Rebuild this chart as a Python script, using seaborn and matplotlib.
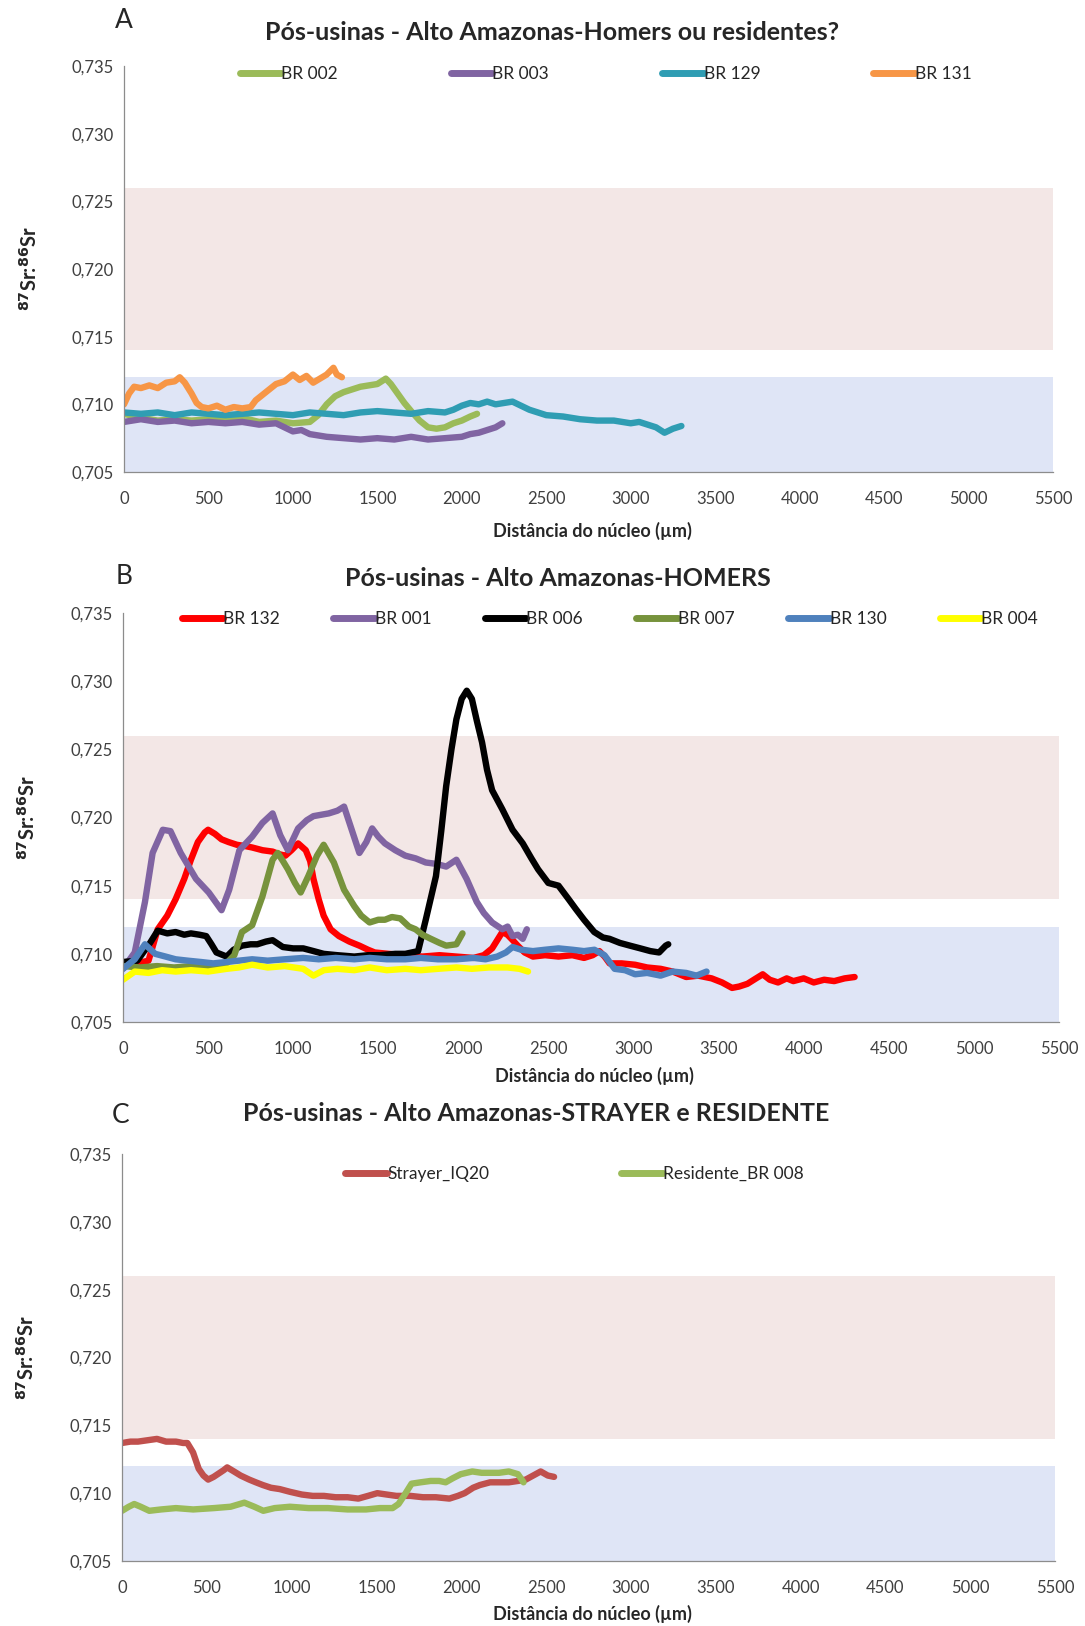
"""Recreation of the Sr isotope profile panels (A, B, C)."""

import matplotlib
matplotlib.use("Agg")
import matplotlib.pyplot as plt
import matplotlib.ticker as mticker
import numpy as np
import seaborn as sns

# ---- data (distance from core in um, 87Sr/86Sr) ----
br002 = [(0, 0.7093), (100, 0.7090), (200, 0.7088), (300, 0.7089), (400, 0.7088), (500, 0.7089),
         (600, 0.7088), (700, 0.7090), (800, 0.7087), (900, 0.7088), (1000, 0.7086), (1100, 0.7087),
         (1150, 0.7092), (1200, 0.7100), (1250, 0.7106), (1300, 0.7109), (1350, 0.7111), (1400, 0.7113),
         (1450, 0.7114), (1500, 0.7115), (1550, 0.7119), (1580, 0.7115), (1620, 0.7108), (1660, 0.7101),
         (1700, 0.7095), (1750, 0.7088), (1800, 0.7083), (1850, 0.7082), (1900, 0.7083), (1950, 0.7086),
         (2000, 0.7088), (2050, 0.7091), (2090, 0.7093)]
br003 = [(0, 0.7087), (100, 0.7089), (200, 0.7087), (300, 0.7088), (400, 0.7086), (500, 0.7087),
         (600, 0.7086), (700, 0.7087), (800, 0.7085), (900, 0.7086), (950, 0.7083), (1000, 0.7080),
         (1050, 0.7081), (1100, 0.7078), (1150, 0.7077), (1200, 0.7076), (1300, 0.7075), (1400, 0.7074),
         (1500, 0.7075), (1600, 0.7074), (1700, 0.7076), (1800, 0.7074), (1900, 0.7075), (2000, 0.7076),
         (2050, 0.7078), (2100, 0.7079), (2150, 0.7081), (2200, 0.7083), (2240, 0.7086)]
br129 = [(0, 0.7094), (100, 0.7093), (200, 0.7094), (300, 0.7092), (400, 0.7094), (500, 0.7093),
         (600, 0.7092), (700, 0.7093), (800, 0.7094), (900, 0.7093), (1000, 0.7092), (1100, 0.7094),
         (1200, 0.7093), (1300, 0.7092), (1400, 0.7094), (1500, 0.7095), (1600, 0.7094), (1700, 0.7093),
         (1800, 0.7095), (1900, 0.7094), (1950, 0.7096), (2000, 0.7099), (2050, 0.7101), (2100, 0.7100),
         (2150, 0.7102), (2200, 0.7100), (2250, 0.7101), (2300, 0.7102), (2350, 0.7099), (2400, 0.7096),
         (2450, 0.7094), (2500, 0.7092), (2600, 0.7091), (2700, 0.7089), (2800, 0.7088), (2900, 0.7088),
         (3000, 0.7086), (3050, 0.7087), (3100, 0.7085), (3150, 0.7083), (3200, 0.7079), (3250, 0.7082),
         (3300, 0.7084)]
br131 = [(0, 0.7100), (30, 0.7108), (60, 0.7113), (100, 0.7112), (150, 0.7114), (200, 0.7112),
         (250, 0.7116), (300, 0.7117), (330, 0.7120), (360, 0.7116), (400, 0.7108), (430, 0.7101),
         (460, 0.7098), (500, 0.7097), (550, 0.7099), (600, 0.7096), (650, 0.7098), (700, 0.7097),
         (750, 0.7098), (780, 0.7103), (820, 0.7107), (860, 0.7111), (900, 0.7115), (950, 0.7117),
         (1000, 0.7122), (1040, 0.7118), (1080, 0.7121), (1120, 0.7116), (1160, 0.7119), (1200, 0.7122),
         (1240, 0.7127), (1260, 0.7122), (1290, 0.7120)]

br132 = [(0, 0.7092), (80, 0.7093), (150, 0.7095), (204, 0.7118), (260, 0.7128), (309, 0.7140),
         (360, 0.7155), (399, 0.7169), (440, 0.7182), (480, 0.7189), (500, 0.7191), (540, 0.7188),
         (579, 0.7184), (620, 0.7182), (669, 0.7180), (720, 0.7179), (759, 0.7178), (820, 0.7176),
         (879, 0.7175), (920, 0.7173), (954, 0.7172), (990, 0.7176), (1029, 0.7181), (1074, 0.7176),
         (1100, 0.7168), (1119, 0.7155), (1150, 0.7140), (1179, 0.7128), (1220, 0.7118), (1269, 0.7113),
         (1330, 0.7109), (1389, 0.7106), (1440, 0.7103), (1479, 0.7101), (1560, 0.7100), (1659, 0.7099),
         (1760, 0.7098), (1860, 0.7099), (1959, 0.7098), (2060, 0.7097), (2120, 0.7099), (2169, 0.7104),
         (2229, 0.7116), (2259, 0.7114), (2290, 0.7110), (2319, 0.7106), (2360, 0.7101), (2409, 0.7098),
         (2480, 0.7099), (2559, 0.7098), (2640, 0.7099), (2709, 0.7097), (2760, 0.7099), (2799, 0.7102),
         (2830, 0.7098), (2859, 0.7093), (2930, 0.7093), (3009, 0.7092), (3080, 0.7090), (3159, 0.7089),
         (3230, 0.7087), (3309, 0.7083), (3380, 0.7084), (3459, 0.7082), (3520, 0.7079), (3579, 0.7075),
         (3620, 0.7076), (3669, 0.7078), (3720, 0.7082), (3759, 0.7085), (3800, 0.7081), (3849, 0.7079),
         (3900, 0.7082), (3939, 0.7080), (4000, 0.7082), (4059, 0.7079), (4120, 0.7081), (4179, 0.7080),
         (4240, 0.7082), (4299, 0.7083)]
br001 = [(0, 0.7089), (69, 0.7101), (129, 0.7138), (174, 0.7174), (234, 0.7191), (279, 0.7190),
         (339, 0.7174), (429, 0.7155), (504, 0.7145), (579, 0.7132), (624, 0.7147), (684, 0.7176),
         (759, 0.7186), (819, 0.7196), (879, 0.7203), (924, 0.7187), (969, 0.7176), (1029, 0.7192),
         (1080, 0.7198), (1119, 0.7201), (1209, 0.7203), (1260, 0.7205), (1299, 0.7208), (1344, 0.7191),
         (1389, 0.7174), (1430, 0.7182), (1464, 0.7192), (1500, 0.7186), (1539, 0.7181), (1600, 0.7176),
         (1659, 0.7172), (1720, 0.7170), (1779, 0.7167), (1840, 0.7166), (1899, 0.7164), (1959, 0.7169),
         (2019, 0.7155), (2079, 0.7138), (2120, 0.7130), (2169, 0.7123), (2229, 0.7118), (2260, 0.7120),
         (2289, 0.7113), (2320, 0.7114), (2349, 0.7111), (2373, 0.7118)]
br006 = [(0, 0.7094), (84, 0.7095), (159, 0.7108), (204, 0.7117), (260, 0.7115), (309, 0.7116),
         (360, 0.7114), (399, 0.7115), (450, 0.7114), (489, 0.7113), (520, 0.7107), (549, 0.7101),
         (609, 0.7098), (650, 0.7103), (699, 0.7106), (750, 0.7107), (789, 0.7107), (840, 0.7109),
         (879, 0.7110), (939, 0.7105), (1000, 0.7104), (1059, 0.7104), (1120, 0.7102), (1179, 0.7100),
         (1260, 0.7099), (1359, 0.7098), (1440, 0.7099), (1509, 0.7099), (1600, 0.7100), (1659, 0.7100),
         (1734, 0.7102), (1779, 0.7125), (1839, 0.7157), (1870, 0.7190), (1899, 0.7223), (1930, 0.7250),
         (1959, 0.7272), (1990, 0.7287), (2020, 0.7293), (2050, 0.7287), (2079, 0.7271), (2110, 0.7255),
         (2139, 0.7235), (2169, 0.7220), (2229, 0.7206), (2289, 0.7191), (2349, 0.7181), (2400, 0.7170),
         (2439, 0.7162), (2499, 0.7152), (2559, 0.7150), (2619, 0.7140), (2660, 0.7133), (2709, 0.7125),
         (2769, 0.7116), (2820, 0.7112), (2859, 0.7111), (2920, 0.7108), (2979, 0.7106), (3040, 0.7104),
         (3099, 0.7102), (3150, 0.7101), (3189, 0.7106), (3204, 0.7107)]
br007 = [(0, 0.7091), (100, 0.7090), (200, 0.7091), (300, 0.7090), (400, 0.7091), (500, 0.7090),
         (600, 0.7092), (654, 0.7099), (699, 0.7116), (759, 0.7121), (819, 0.7142), (879, 0.7169),
         (909, 0.7174), (940, 0.7168), (969, 0.7162), (1010, 0.7152), (1044, 0.7145), (1089, 0.7157),
         (1140, 0.7172), (1179, 0.7180), (1239, 0.7167), (1299, 0.7147), (1359, 0.7135), (1400, 0.7128),
         (1449, 0.7123), (1500, 0.7125), (1539, 0.7125), (1580, 0.7127), (1629, 0.7126), (1680, 0.7120),
         (1719, 0.7118), (1760, 0.7114), (1809, 0.7111), (1860, 0.7108), (1899, 0.7106), (1959, 0.7107),
         (1995, 0.7115)]
br130 = [(0, 0.7089), (69, 0.7096), (129, 0.7107), (189, 0.7100), (250, 0.7098), (309, 0.7096),
         (380, 0.7095), (459, 0.7094), (530, 0.7093), (609, 0.7094), (680, 0.7095), (759, 0.7096),
         (850, 0.7095), (950, 0.7096), (1059, 0.7097), (1150, 0.7096), (1250, 0.7097), (1359, 0.7096),
         (1450, 0.7097), (1550, 0.7096), (1659, 0.7096), (1750, 0.7097), (1850, 0.7096), (1959, 0.7096),
         (2060, 0.7097), (2130, 0.7096), (2199, 0.7098), (2250, 0.7101), (2289, 0.7105), (2340, 0.7103),
         (2409, 0.7102), (2480, 0.7103), (2559, 0.7104), (2640, 0.7103), (2709, 0.7102), (2770, 0.7103),
         (2829, 0.7099), (2889, 0.7089), (2950, 0.7088), (3009, 0.7085), (3080, 0.7086), (3159, 0.7084),
         (3230, 0.7087), (3309, 0.7086), (3370, 0.7084), (3429, 0.7087)]
br004 = [(0, 0.7081), (69, 0.7087), (150, 0.7086), (230, 0.7088), (309, 0.7087), (400, 0.7088),
         (500, 0.7087), (609, 0.7089), (680, 0.7090), (759, 0.7092), (850, 0.7090), (950, 0.7091),
         (1059, 0.7089), (1119, 0.7084), (1180, 0.7088), (1260, 0.7089), (1359, 0.7088), (1450, 0.7090),
         (1550, 0.7088), (1659, 0.7089), (1750, 0.7088), (1850, 0.7089), (1959, 0.7090), (2050, 0.7089),
         (2150, 0.7090), (2259, 0.7090), (2330, 0.7089), (2380, 0.7087)]

strayer_iq20 = [(0, 0.7137), (50, 0.7138), (94, 0.7138), (150, 0.7139), (206, 0.7140), (260, 0.7138),
                (318, 0.7138), (360, 0.7137), (385, 0.7137), (419, 0.7130), (452, 0.7118), (480, 0.7113),
                (508, 0.7110), (540, 0.7112), (564, 0.7114), (600, 0.7117), (620, 0.7119), (660, 0.7116),
                (699, 0.7113), (750, 0.7110), (789, 0.7108), (830, 0.7106), (878, 0.7104), (930, 0.7103),
                (990, 0.7101), (1060, 0.7099), (1124, 0.7098), (1190, 0.7098), (1259, 0.7097), (1330, 0.7097),
                (1393, 0.7096), (1450, 0.7098), (1505, 0.7100), (1560, 0.7099), (1617, 0.7098), (1700, 0.7098),
                (1774, 0.7097), (1850, 0.7097), (1930, 0.7096), (1980, 0.7098), (2020, 0.7100), (2070, 0.7104),
                (2110, 0.7106), (2170, 0.7108), (2222, 0.7108), (2280, 0.7108), (2334, 0.7109), (2380, 0.7110),
                (2424, 0.7113), (2468, 0.7116), (2510, 0.7113), (2547, 0.7112)]
residente_br008 = [(0, 0.7087), (40, 0.7090), (72, 0.7092), (110, 0.7090), (161, 0.7087), (230, 0.7088),
                   (318, 0.7089), (420, 0.7088), (542, 0.7089), (640, 0.7090), (721, 0.7093), (780, 0.7090),
                   (833, 0.7087), (900, 0.7089), (990, 0.7090), (1100, 0.7089), (1214, 0.7089), (1330, 0.7088),
                   (1438, 0.7088), (1520, 0.7089), (1595, 0.7089), (1630, 0.7092), (1662, 0.7098), (1707, 0.7107),
                   (1760, 0.7108), (1819, 0.7109), (1870, 0.7109), (1908, 0.7108), (1950, 0.7111), (1997, 0.7114),
                   (2065, 0.7116), (2120, 0.7115), (2180, 0.7115), (2222, 0.7115), (2280, 0.7116), (2334, 0.7114),
                   (2367, 0.7108)]

# reference ranges (shaded bands)
pink_band = (0.714, 0.726)
blue_band = (0.705, 0.712)

x_ticks = list(range(0, 5501, 500))
y_ticks = [0.705, 0.710, 0.715, 0.720, 0.725, 0.730, 0.735]

panels = [
    {"letter": "A", "title": "Pós-usinas - Alto Amazonas-Homers ou residentes?",
     "series": [("BR 002", br002, "#9bbb59"), ("BR 003", br003, "#8064a2"),
                ("BR 129", br129, "#2f9db3"), ("BR 131", br131, "#f79646")]},
    {"letter": "B", "title": "Pós-usinas - Alto Amazonas-HOMERS",
     "series": [("BR 132", br132, "#ff0000"), ("BR 001", br001, "#8064a2"),
                ("BR 006", br006, "#000000"), ("BR 007", br007, "#77933c"),
                ("BR 130", br130, "#4f81bd"), ("BR 004", br004, "#ffff00")]},
    {"letter": "C", "title": "Pós-usinas - Alto Amazonas-STRAYER e RESIDENTE",
     "series": [("Strayer_IQ20", strayer_iq20, "#c0504d"),
                ("Residente_BR 008", residente_br008, "#9bbb59")]},
]

sns.set_style("white")
plt.rcParams['font.family'] = ['Lato', 'DejaVu Sans']

fig = plt.figure(figsize=(10.85, 16.26), dpi=100)
W, H = 1085, 1626

# axes boxes in pixels: left, top, right, bottom
boxes = [(124, 66, 1053, 472), (123, 613, 1059, 1022), (122, 1154, 1055, 1561)]
title_pos = [(552, 32), (558, 578), (536, 1113)]
letter_pos = [(124, 21), (124, 576), (121, 1115)]
# legend: left anchor (axes fraction), top anchor, column spacing
legend_cfg = [(0.1244, 1.0, 6.5), (0.0625, 1.004, 3.07), (0.2394, 0.97, 7.6)]
xlabel_y = [-0.123, -0.11, -0.108]

for i, panel in enumerate(panels):
    l, t, r, b = boxes[i]
    ax = fig.add_axes([l / W, 1 - b / H, (r - l) / W, (b - t) / H])

    ax.axhspan(*pink_band, color="#f3e7e6", lw=0, zorder=0)
    ax.axhspan(*blue_band, color="#dfe5f6", lw=0, zorder=0)

    for name, pts, col in panel["series"]:
        arr = np.array(pts)
        sns.lineplot(x=arr[:, 0], y=arr[:, 1], ax=ax, color=col, lw=4.6,
                     label=name, solid_capstyle="round", sort=False)

    ax.set_xlim(0, 5500)
    ax.set_ylim(0.705, 0.735)
    ax.set_xticks(x_ticks)
    ax.set_yticks(y_ticks)
    ax.xaxis.set_minor_locator(mticker.MultipleLocator(100))
    ax.yaxis.set_minor_locator(mticker.MultipleLocator(0.001))
    ax.yaxis.set_major_formatter(mticker.FuncFormatter(lambda v, p: f"{v:.3f}".replace(".", ",")))
    ax.tick_params(which="major", direction="inout", length=7, width=0.8, color="#8c8c8c",
                   labelsize=12, labelcolor="#404040", pad=4)
    ax.tick_params(axis="x", which="major", pad=10)
    ax.tick_params(which="minor", direction="in", length=3, width=0.6, color="#8c8c8c")
    for side in ["top", "right"]:
        ax.spines[side].set_visible(False)
    for side in ["left", "bottom"]:
        ax.spines[side].set_color("#8c8c8c")
        ax.spines[side].set_linewidth(0.9)

    ax.set_xlabel("Distância do núcleo (µm)", fontsize=13, fontweight="bold")
    ax.xaxis.set_label_coords(0.504, xlabel_y[i])
    ax.set_ylabel(r"$\mathbf{^{87}}$Sr:$\mathbf{^{86}}$Sr", fontsize=14.5, fontweight="bold")
    ax.yaxis.set_label_coords(-0.09, 0.5)

    lx, ly, cs = legend_cfg[i]
    leg = ax.legend(loc="upper left", bbox_to_anchor=(lx, ly), ncol=len(panel["series"]),
                    frameon=False, handlelength=2.4, handletextpad=0.0, columnspacing=cs,
                    borderaxespad=0.0, borderpad=0.0, prop={"size": 12.5})
    for h in leg.get_lines():
        h.set_linewidth(5)
        h.set_solid_capstyle("round")

    tx, ty = title_pos[i]
    fig.text(tx / W, 1 - ty / H, panel["title"], ha="center", va="center",
             fontsize=18, fontweight="bold")
    px, py = letter_pos[i]
    fig.text(px / W, 1 - py / H, panel["letter"], ha="center", va="center", fontsize=19)

fig.savefig("out.png", dpi=100)
